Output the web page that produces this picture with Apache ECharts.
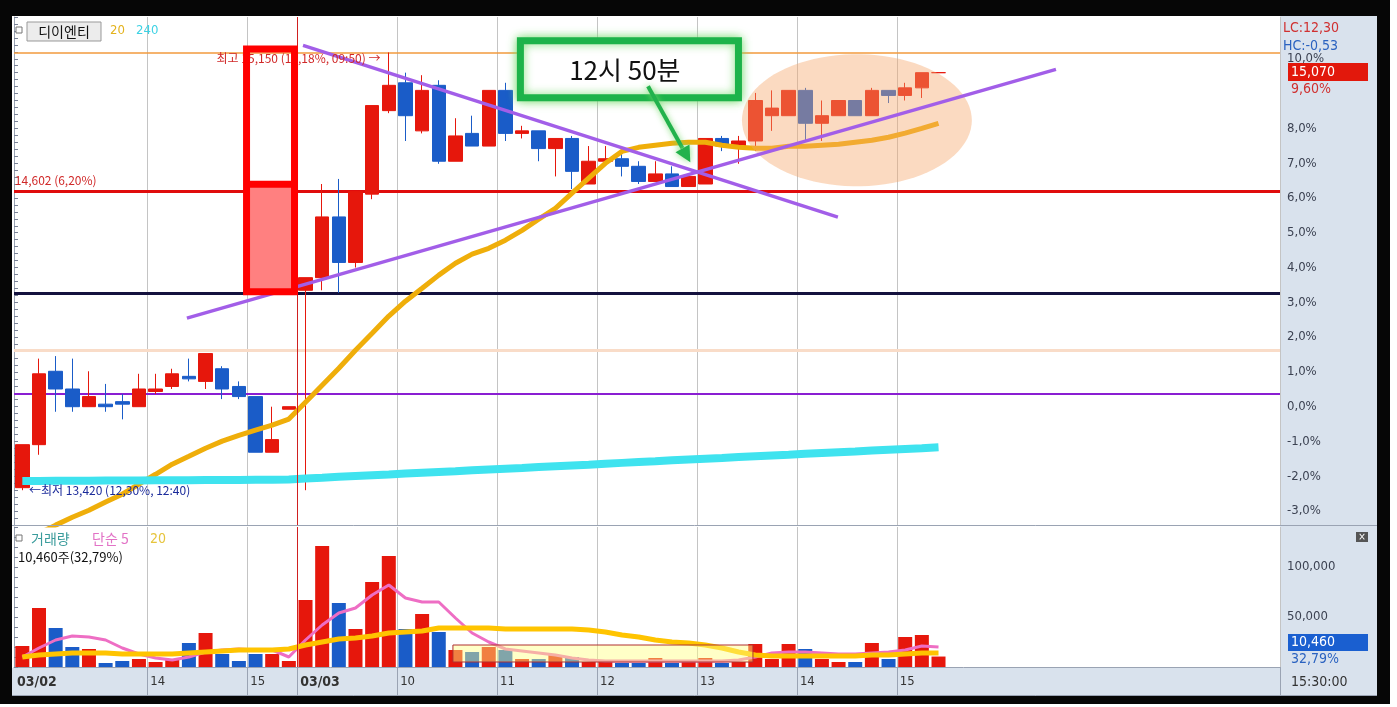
<!DOCTYPE html>
<html><head><meta charset="utf-8">
<script src="https://cdn.jsdelivr.net/npm/echarts@6.0.0/dist/echarts.min.js"></script>
<style>html,body{margin:0;padding:0;background:#fff;overflow:hidden}#c{width:1397px;height:707px}</style>
</head><body><div id="c"></div>
<script>
// ---------------- DATA ----------------
const basePrice = 13750; // previous close (0.0%)
const times = [
 '03/02 12:40','03/02 12:50','03/02 13:00','03/02 13:10','03/02 13:20','03/02 13:30','03/02 13:40','03/02 13:50',
 '03/02 14:00','03/02 14:10','03/02 14:20','03/02 14:30','03/02 14:40','03/02 14:50',
 '03/02 15:00','03/02 15:10','03/02 15:20',
 '03/03 09:00','03/03 09:10','03/03 09:20','03/03 09:30','03/03 09:40','03/03 09:50',
 '03/03 10:00','03/03 10:10','03/03 10:20','03/03 10:30','03/03 10:40','03/03 10:50',
 '03/03 11:00','03/03 11:10','03/03 11:20','03/03 11:30','03/03 11:40','03/03 11:50',
 '03/03 12:00','03/03 12:10','03/03 12:20','03/03 12:30','03/03 12:40','03/03 12:50',
 '03/03 13:00','03/03 13:10','03/03 13:20','03/03 13:30','03/03 13:40','03/03 13:50',
 '03/03 14:00','03/03 14:10','03/03 14:20','03/03 14:30','03/03 14:40','03/03 14:50',
 '03/03 15:00','03/03 15:10','03/03 15:20'
];
const opens = [13430,13600,13890,13820,13750,13760,13770,13750,13810,13830,13870,13850,13900,13830,13790,13570,13740,
 14210,14260,14500,14320,14590,14920,15030,14840,15020,14720,14830,14780,15000,14830,14840,14770,14810,14630,14720,
 14730,14700,14640,14670,14620,14630,14810,14780,14800,14900,14900,15000,14870,14900,14960,14900,15000,14980,15010,15070];
const closes = [13600,13880,13820,13750,13790,13750,13760,13820,13820,13880,13860,13960,13820,13790,13570,13620,13750,
 14260,14500,14320,14600,14940,15020,14900,15000,14720,14820,14780,15000,14830,14840,14770,14810,14680,14720,14730,
 14700,14640,14670,14620,14660,14810,14780,14800,14960,14930,15000,14870,14900,14960,14900,15000,14980,15010,15070,15070];
const lows = [13420,13560,13730,13730,13750,13730,13700,13750,13800,13820,13850,13820,13780,13780,13570,13570,13740,
 13420,14210,14200,14300,14570,14910,14800,14830,14710,14720,14780,14780,14800,14810,14720,14660,14610,14630,14720,
 14660,14630,14640,14620,14620,14630,14760,14710,14760,14840,14900,14800,14800,14900,14900,14900,14950,14960,14970,15070];
const highs = [13600,13940,13950,13940,13890,13840,13800,13880,13880,13900,13940,13960,13910,13850,13790,13750,13750,
 14260,14630,14650,14600,14940,15150,15070,15060,15040,14890,14900,15000,15030,14860,14840,14810,14820,14780,14780,
 14760,14720,14720,14700,14660,14810,14820,14820,14990,15000,15000,15010,14960,14960,14960,15010,15000,15030,15070,15070];
const volumes = [21000,59000,39000,20000,18000,4000,6000,8000,5000,8000,24000,34000,13000,6000,13000,13000,6000,
 67000,121000,64000,38000,85000,111000,38000,53000,35000,
 17000,15000,20000,17000,8000,8000,12000,10000,5000,5000,
 4000,4000,9000,4000,5000,9000,4000,5000,23000,8000,
 23000,18000,8000,5000,5000,24000,8000,30000,32000,10460];
const priceMA20 = [13223,13250,13282,13313,13341,13373,13404,13444,13483,13523,13554,13586,13614,13637,13657,13677,13701,
 13768,13835,13902,13973,14040,14108,14167,14218,14270,
 14317,14353,14376,14408,14447,14491,14534,14594,14653,14712,
 14759,14775,14783,14791,14795,14795,14783,14775,14771,14771,
 14779,14779,14783,14787,14795,14803,14815,14831,14850,14870];
const priceMA240 = [13456,13456,13457,13457,13457,13458,13458,13458,13459,13459,13459,13460,13460,13460,13461,13461,13462,
 13466,13469,13473,13476,13479,13482,13486,13489,13492,13495,
 13499,13502,13505,13508,13512,13515,13518,13521,13525,13528,
 13531,13534,13538,13541,13544,13547,13551,13554,13557,13560,
 13564,13567,13570,13573,13577,13580,13583,13586,13590];
const volMA5 = [10000,19000,27000,31000,30000,27000,19000,13000,9000,7000,10000,15000,17000,18000,17000,17000,10000,
 27000,42000,54000,59000,72000,82000,69000,65000,65000,
 49000,34000,25000,18000,16000,14000,12000,9000,7000,6000,
 6000,6000,6000,6000,6000,6000,6000,7000,10000,14000,
 15000,15000,14000,13000,13000,14000,15000,17000,21000,20000];
const volMA20 = [10000,12000,13000,14000,14000,14000,13000,13000,13000,13000,14000,15000,16000,17000,17000,17000,18000,
 22000,25000,28000,29000,31000,34000,35000,36000,39000,
 39000,39000,39000,38000,38000,38000,38000,38000,37000,35000,
 32000,30000,27000,25000,24000,22000,19000,15000,12000,11000,
 11000,11000,11000,11000,11000,12000,12000,13000,14000,14000];
const xTickLabels = {0:'03/02', 8:'14', 14:'15', 17:'03/03', 23:'10', 29:'11', 35:'12', 41:'13', 47:'14', 53:'15'};
const levelPrices = {high:15150, avg:14602, navy:14200, peach:13975, purple:13800};
const volumeInfo = '10,460주(32,79%)';
const volumeRatio = '32,79%';
const closeTime = '15:30:00';
const stockName = '디이엔티';

// ---------------- LAYOUT / STYLE ----------------
const SLOTS = 76;
const RED = '#e6170c', BLUE = '#1a5cc8';
const FONT = "'DejaVu Sans Condensed','DejaVu Sans',sans-serif";
const FKR = "'Noto Sans CJK KR','Noto Sans',sans-serif";
const step = basePrice * 0.002;              // 0.2 %
const priceMin = basePrice - 17 * step;      // -3.4 %
const priceMax = basePrice + 56 * step;      // +11.2 %

// user drawings, in (slot, price) / (slot, volume) coordinates
const annot = {
  trendDown: [[17.35, 15178], [49.46, 14499]],
  trendUp: [[10.38, 14100], [62.55, 15083]],
  redBox: {s0: 13.96, s1: 16.84, top: 15164, mid: 14629, bot: 14204},
  greenBox: {s0: 30.40, s1: 43.49, top: 15196, bot: 14971},
  note: {s: 36.67, p: 15080, text: '12시 50분'},
  arrow: [[38.06, 15016], [40.6, 14716]],
  ellipse: {s: 50.6, p: 14882, rs: 6.9, rp: 261},
  volBox: {s0: 26.35, s1: 44.36, top: 22000, bot: 5000}
};

// ---------------- DERIVED ----------------
const cats = times.concat(Array.from({length: SLOTS - times.length}, (_, i) => 'pad' + i));
const candleData = opens.map((o, i) => [o, closes[i], lows[i], highs[i]]);
const volData = volumes.map((v, i) => ({value: v, itemStyle: {color: closes[i] >= opens[i] ? RED : BLUE}}));
const dayStart = times.findIndex(t => t.startsWith('03/03'));
const gridIdx = Object.keys(xTickLabels).map(Number).filter(i => i !== 0 && i !== dayStart);
const sepIdx = Object.keys(xTickLabels).map(Number).filter(i => i !== 0);
const pct = v => (v / basePrice - 1) * 100;
const fmtNum = v => String(Math.round(v)).replace(/\B(?=(\d{3})+(?!\d))/g, ',');
const fmtDec = (v, d) => v.toFixed(d).replace('.', ',');
const last = closes[closes.length - 1];
const hiVal = Math.max(...highs), hiIdx = highs.indexOf(hiVal);
const loVal = Math.min(...lows), loIdx = lows.indexOf(loVal);
const lc = (last - loVal) / loVal * 100;
const hc = (last - hiVal) / hiVal * 100;

function priceAnnot(params, api) {
  const c = (s, p) => api.coord([s, p]);
  const k = [];
  const d0 = c(dayStart, priceMin), d1 = c(dayStart, priceMax);
  const dx = Math.round(d0[0]) + 0.5;
  k.push({type: 'line', shape: {x1: dx, y1: d1[1], x2: dx, y2: d0[1]}, style: {stroke: '#d02020', lineWidth: 1}});
  const E = annot.ellipse, pts = [];
  for (let i = 0; i < 90; i++) { const a = i / 90 * Math.PI * 2; pts.push(c(E.s + E.rs * Math.cos(a), E.p + E.rp * Math.sin(a))); }
  k.push({type: 'polygon', shape: {points: pts}, style: {fill: 'rgba(245,168,108,0.42)'}});
  [annot.trendDown, annot.trendUp].forEach(t => {
    const a = c(t[0][0], t[0][1]), b = c(t[1][0], t[1][1]);
    k.push({type: 'line', shape: {x1: a[0], y1: a[1], x2: b[0], y2: b[1]}, style: {stroke: '#a25ee8', lineWidth: 3.5}});
  });
  const hp = c(hiIdx, hiVal);
  k.push({type: 'text', style: {text: `최고 ${fmtNum(hiVal)} (${fmtDec(pct(hiVal), 2)}%, ${times[hiIdx].slice(6)}) →`, x: hp[0], y: hp[1] + 6,
    align: 'right', verticalAlign: 'middle', fill: '#d02828', font: `12px ${FKR}`}});
  const ap = c(0.05, levelPrices.avg);
  k.push({type: 'text', style: {text: `${fmtNum(levelPrices.avg)} (${fmtDec(pct(levelPrices.avg), 2)}%)`, x: ap[0], y: ap[1] - 11,
    align: 'left', verticalAlign: 'middle', fill: '#d02828', font: `12px ${FKR}`}});
  const lp = c(loIdx + 0.9, loVal);
  k.push({type: 'text', style: {text: `←최저 ${fmtNum(loVal)} (${fmtDec(lc, 2)}%, ${times[loIdx].slice(6)})`, x: lp[0], y: lp[1],
    align: 'left', verticalAlign: 'middle', fill: '#1a2a9a', font: `12px ${FKR}`}});
  const R = annot.redBox;
  const r0 = c(R.s0, R.top), r1 = c(R.s1, R.bot), rm = c(R.s0, R.mid);
  k.push({type: 'rect', shape: {x: r0[0], y: rm[1], width: r1[0] - r0[0], height: r1[1] - rm[1]}, style: {fill: '#ff8080'}});
  k.push({type: 'rect', shape: {x: r0[0], y: r0[1], width: r1[0] - r0[0], height: r1[1] - r0[1]}, style: {fill: null, stroke: '#ff0000', lineWidth: 7}});
  k.push({type: 'line', shape: {x1: r0[0], y1: rm[1], x2: r1[0], y2: rm[1]}, style: {stroke: '#ff0000', lineWidth: 7}});
  const G = annot.greenBox;
  const g0 = c(G.s0, G.top), g1 = c(G.s1, G.bot);
  k.push({type: 'rect', shape: {x: g0[0], y: g0[1], width: g1[0] - g0[0], height: g1[1] - g0[1]},
    style: {fill: '#ffffff', stroke: '#1db34a', lineWidth: 7, shadowBlur: 10, shadowColor: 'rgba(120,220,110,0.9)'}});
  const np = c(annot.note.s, annot.note.p);
  k.push({type: 'text', style: {text: annot.note.text, x: np[0], y: np[1], align: 'center', verticalAlign: 'middle', fill: '#111', font: `26px ${FKR}`}});
  const a0 = c(annot.arrow[0][0], annot.arrow[0][1]), a1 = c(annot.arrow[1][0], annot.arrow[1][1]);
  const ang = Math.atan2(a1[1] - a0[1], a1[0] - a0[0]);
  const hl = 16, hw = 8;
  const base = [a1[0] - hl * Math.cos(ang), a1[1] - hl * Math.sin(ang)];
  k.push({type: 'line', shape: {x1: a0[0], y1: a0[1], x2: base[0], y2: base[1]},
    style: {stroke: '#22b24c', lineWidth: 4, shadowBlur: 6, shadowColor: 'rgba(120,220,110,0.9)'}});
  k.push({type: 'polygon', shape: {points: [a1,
      [base[0] + hw * Math.sin(ang), base[1] - hw * Math.cos(ang)],
      [base[0] - hw * Math.sin(ang), base[1] + hw * Math.cos(ang)]]},
    style: {fill: '#22b24c', shadowBlur: 6, shadowColor: 'rgba(120,220,110,0.9)'}});
  return {type: 'group', children: k};
}

function volAnnot(params, api) {
  const c = (s, v) => api.coord([s, v]);
  const k = [];
  const d0 = c(dayStart, 0), d1 = c(dayStart, 140000);
  const dx = Math.round(d0[0]) + 0.5;
  k.push({type: 'line', shape: {x1: dx, y1: d1[1], x2: dx, y2: d0[1]}, style: {stroke: '#d02020', lineWidth: 1}});
  const B = annot.volBox;
  const b0 = c(B.s0, B.top), b1 = c(B.s1, B.bot);
  k.push({type: 'rect', shape: {x: b0[0], y: b0[1], width: b1[0] - b0[0], height: b1[1] - b0[1]},
    style: {fill: 'rgba(255,255,130,0.45)', stroke: '#b03030', lineWidth: 1}});
  return {type: 'group', children: k};
}

const chart = echarts.init(document.getElementById('c'));
const txt = (x, y, text, fill, size, font, extra) => Object.assign({type: 'text', x, y, z: 100,
  style: Object.assign({text, fill, font: `${size}px ${font}`, verticalAlign: 'middle'}, extra || {})});

chart.setOption({
  animation: false,
  backgroundColor: 'transparent',
  grid: [
    {left: 14, top: 17, width: 1266, height: 508, show: false},
    {left: 14, top: 527, width: 1266, height: 140, show: false}
  ],
  xAxis: [
    {type: 'category', gridIndex: 0, data: cats, boundaryGap: true, axisLine: {show: false}, axisTick: {show: false}, axisLabel: {show: false},
      splitLine: {show: true, interval: (i) => gridIdx.includes(i), lineStyle: {color: '#c4c4c4', width: 1}}},
    {type: 'value', gridIndex: 0, min: 0, max: SLOTS, show: false},
    {type: 'category', gridIndex: 1, data: cats, boundaryGap: true, position: 'bottom',
      axisLine: {show: true, lineStyle: {color: '#9aa3b3'}},
      axisTick: {show: true, interval: (i) => sepIdx.includes(i), length: 28, lineStyle: {color: '#9aa3b3'}},
      axisLabel: {show: false},
      splitLine: {show: true, interval: (i) => gridIdx.includes(i), lineStyle: {color: '#c4c4c4', width: 1}}},
    {type: 'value', gridIndex: 1, min: 0, max: SLOTS, interval: 1, position: 'bottom',
      axisLine: {show: false}, axisTick: {show: false}, splitLine: {show: false},
      axisLabel: {show: true, margin: 8, align: 'left', padding: [0, 0, 0, 3], color: '#333', fontSize: 13, fontFamily: FONT,
        formatter: v => { const t = xTickLabels[v]; if (!t) return ''; return t.includes('/') ? `{b|${t}}` : t; },
        rich: {b: {fontWeight: 'bold', fontSize: 14, fontFamily: FONT, color: '#333'}}}}
  ],
  yAxis: [
    {type: 'value', gridIndex: 0, position: 'right', min: priceMin, max: priceMax, interval: step, scale: true,
      axisLine: {show: true, lineStyle: {color: '#9aa3b3'}},
      axisTick: {show: true, length: 4, lineStyle: {color: '#7a8296'}},
      splitLine: {show: false},
      axisLabel: {margin: 7, color: '#3c4252', fontSize: 13, fontFamily: FONT,
        formatter: v => { const p = pct(v), r = Math.round(p); if (Math.abs(p - r) > 1e-6 || r === 9 || r === 11) return ''; return fmtDec(r, 1) + '%'; }}},
    {type: 'value', gridIndex: 1, position: 'right', min: 0, max: 140000, interval: 10000,
      axisLine: {show: true, lineStyle: {color: '#9aa3b3'}},
      axisTick: {show: true, length: 4, lineStyle: {color: '#7a8296'}},
      splitLine: {show: false},
      axisLabel: {margin: 7, color: '#3c4252', fontSize: 13, fontFamily: FONT,
        formatter: v => (v === 50000 || v === 100000) ? fmtNum(v) : ''}}
  ],
  series: [
    {type: 'candlestick', xAxisIndex: 0, yAxisIndex: 0, data: candleData, barWidth: 14, z: 3,
      itemStyle: {color: RED, color0: BLUE, borderColor: RED, borderColor0: BLUE, borderColorDoji: RED, borderWidth: 1},
      markLine: {silent: true, symbol: 'none', label: {show: false}, animation: false, z: 1,
        data: [
          {yAxis: levelPrices.high, lineStyle: {color: '#f29a3c', width: 1.5, type: 'solid'}},
          {yAxis: levelPrices.avg, lineStyle: {color: '#e00c0c', width: 3, type: 'solid'}},
          {yAxis: levelPrices.navy, lineStyle: {color: '#14123e', width: 3, type: 'solid'}},
          {yAxis: levelPrices.peach, lineStyle: {color: '#f9dcc8', width: 3, type: 'solid'}},
          {yAxis: levelPrices.purple, lineStyle: {color: '#8a1ed2', width: 2, type: 'solid'}}
        ]}},
    {type: 'line', xAxisIndex: 0, yAxisIndex: 0, data: priceMA20, symbol: 'none', z: 4, lineStyle: {color: '#efae0a', width: 5}},
    {type: 'line', xAxisIndex: 0, yAxisIndex: 0, data: priceMA240, symbol: 'none', z: 4, lineStyle: {color: '#3fe3ef', width: 8}},
    {type: 'custom', xAxisIndex: 1, yAxisIndex: 0, data: [[0, basePrice]], renderItem: priceAnnot, z: 6, silent: true},
    {type: 'bar', xAxisIndex: 2, yAxisIndex: 1, data: volData, barWidth: 14, z: 3},
    {type: 'line', xAxisIndex: 2, yAxisIndex: 1, data: volMA5, symbol: 'none', z: 4, lineStyle: {color: '#ee6ec4', width: 3}},
    {type: 'line', xAxisIndex: 2, yAxisIndex: 1, data: volMA20, symbol: 'none', z: 4, lineStyle: {color: '#ffc400', width: 5}},
    {type: 'custom', xAxisIndex: 3, yAxisIndex: 1, data: [[0, 0]], renderItem: volAnnot, z: 6, silent: true}
  ],
  graphic: {elements: [
    {type: 'rect', z: -100, silent: true, shape: {x: 0, y: 0, width: 1390, height: 704}, style: {fill: '#060606'}},
    {type: 'rect', z: -99, silent: true, shape: {x: 12, y: 16, width: 1268, height: 652}, style: {fill: '#ffffff'}},
    {type: 'rect', z: -99, silent: true, shape: {x: 1280, y: 16, width: 97, height: 680}, style: {fill: '#d9e2ed'}},
    {type: 'rect', z: -99, silent: true, shape: {x: 12, y: 668, width: 1268, height: 28}, style: {fill: '#d9e2ed'}},
    {type: 'line', z: 50, silent: true, shape: {x1: 12, y1: 525.5, x2: 1377, y2: 525.5}, style: {stroke: '#9aa3b3', lineWidth: 1}},
    {type: 'line', z: 50, silent: true, shape: {x1: 12, y1: 695.5, x2: 1377, y2: 695.5}, style: {stroke: '#9aa3b3', lineWidth: 1}},
    {type: 'line', z: 50, silent: true, shape: {x1: 1280.5, y1: 668, x2: 1280.5, y2: 696}, style: {stroke: '#9aa3b3', lineWidth: 1}},
    {type: 'rect', z: 100, shape: {x: 16, y: 27, width: 6, height: 6}, style: {fill: '#fff', stroke: '#777', lineWidth: 1}},
    {type: 'rect', z: 100, shape: {x: 27, y: 22, width: 74, height: 19}, style: {fill: '#ececec', stroke: '#999', lineWidth: 1}},
    txt(64, 32, stockName, '#111', 14, FKR, {align: 'center'}),
    txt(110, 31, '20', '#e3b21c', 13, FONT),
    txt(136, 31, '240', '#3ed2e4', 13, FONT),
    {type: 'rect', z: 100, shape: {x: 16, y: 535, width: 6, height: 6}, style: {fill: '#fff', stroke: '#777', lineWidth: 1}},
    txt(31, 539, '거래량', '#3a9c9c', 14, FKR),
    txt(92, 539, '단순 5', '#e272c6', 14, FKR),
    txt(150, 539, '20', '#e6c43c', 14, FONT),
    txt(18, 557, volumeInfo, '#111', 13, FKR),
    txt(1283, 28, `LC:${fmtDec(lc, 2)}`, '#d03030', 14, FONT),
    txt(1283, 46, `HC:${fmtDec(hc, 2)}`, '#2a62c0', 14, FONT),
    {type: 'rect', z: 100, shape: {x: 1288, y: 63, width: 80, height: 18}, style: {fill: '#e2180c'}},
    txt(1291, 72, fmtNum(last), '#ffffff', 14, FONT),
    txt(1291, 89, fmtDec(pct(last), 2) + '%', '#d03030', 14, FONT),
    {type: 'rect', z: 100, shape: {x: 1356, y: 532, width: 12, height: 10}, style: {fill: '#555'}},
    txt(1362, 537, '×', '#fff', 10, FONT, {align: 'center'}),
    {type: 'rect', z: 100, shape: {x: 1288, y: 634, width: 80, height: 17}, style: {fill: '#1a5fd0'}},
    txt(1291, 642.5, fmtNum(volumes[volumes.length - 1]), '#ffffff', 14, FONT),
    txt(1291, 659, volumeRatio, '#2a62c0', 14, FONT),
    txt(1291, 682, closeTime, '#333', 14, FONT)
  ]}
});
</script></body></html>
